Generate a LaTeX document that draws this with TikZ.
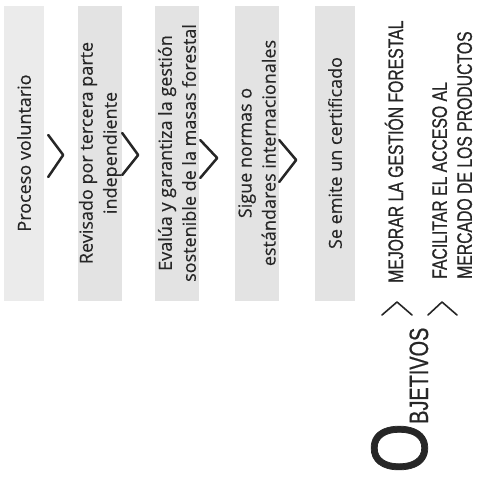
\documentclass[tikz,border=0pt]{standalone}
\usepackage{fontspec}
\setmainfont{Open Sans}[FakeBold=0.35]
\newfontfamily\objfont[FakeStretch=0.75, FakeBold=0.7]{Liberation Sans}
\newfontfamily\initfont[FakeStretch=0.8, FakeBold=0.9]{Liberation Sans}
\begin{document}
\begin{tikzpicture}[x=1pt, y=-1pt,
    every node/.style={font=\fontsize{18}{24}\selectfont, text=black!85, rotate=90},
    paso/.style={fill=black!11, minimum width=295pt, minimum height=44pt, align=center, inner sep=0pt},
    objetivo/.style={font=\objfont\fontsize{21}{25}\selectfont, align=left, inner sep=0pt},
    flecha/.style={black!85, line width=2.5pt, line cap=round, line join=round},
    vineta/.style={black!85, line width=1.6pt, line cap=round, line join=round}]
    \useasboundingbox (0,0) rectangle (485,485);

    \node[paso, minimum height=40pt, fill=black!8] (P1) at (24,153) {Proceso voluntario};
    \node[paso] (P2) at (100,153) {Revisado por tercera parte\\independiente};
    \node[paso] (P3) at (177,153) {Evalúa y garantiza la gestión\\sostenible de la masas forestal};
    \node[paso] (P4) at (257,153) {Sigue normas o\\estándares internacionales};
    \node[paso, minimum height=40pt] (P5) at (335,153) {Se emite un certificado};

    \draw[flecha] (P1.south) ++(4,-18) -- ++(15,20) -- ++(-15,22);
    \draw[flecha] (P2.south) ++(0,-20) -- ++(16,22) -- ++(-16,20);
    \draw[flecha] (P3.south) ++(1,-13) -- ++(17,18) -- ++(-17,20);
    \draw[flecha] (P4.south) ++(0,-13) -- ++(17,20) -- ++(-17,22);

    \node[objetivo, anchor=base west] (Obj1) at (403,283) {MEJORAR LA GESTIÓN FORESTAL};
    \node[objetivo, anchor=north west] (Obj2) at (432,279) {FACILITAR EL ACCESO AL\\MERCADO DE LOS PRODUCTOS};

    \draw[vineta] (Obj1.base west) ++(-21,32) -- ++(15,-13) -- ++(15,13);
    \draw[vineta] (Obj2.north west) ++(-4,36) -- ++(14,-13) -- ++(15,13);

    \node[font=\initfont\fontsize{80}{80}\selectfont, anchor=base, inner sep=0pt] (O) at (427,448) {O};
    \node[font=\objfont\fontsize{26.5}{30}\selectfont, anchor=base west, inner sep=0pt] (Tit) at (428,424) {BJETIVOS};
\end{tikzpicture}
\end{document}
